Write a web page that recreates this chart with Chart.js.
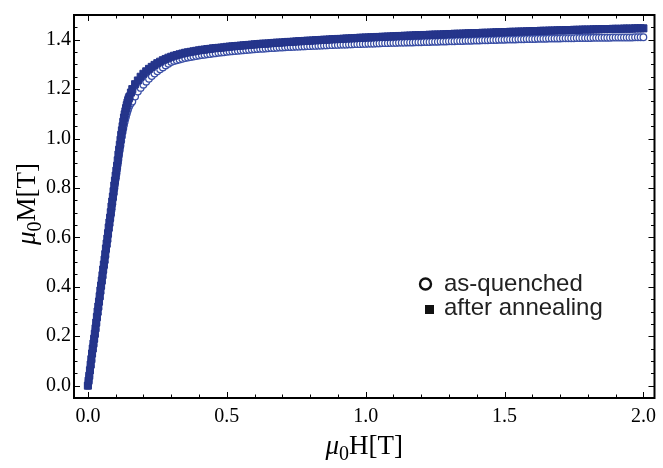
<!DOCTYPE html>
<html>
<head>
<meta charset="utf-8">
<script src="https://cdn.jsdelivr.net/npm/chart.js@4.4.1/dist/chart.umd.min.js"></script>
<style>
  html, body { margin: 0; padding: 0; background: #fff; }
  #wrap { width: 663px; height: 468px; position: relative; }
</style>
</head>
<body>
<div id="wrap"><canvas id="c" width="663" height="468"></canvas></div>
<script>
// ---- Data ----
const fieldT = [
  0,0.0025,0.005,0.0075,0.01,0.0125,0.015,0.0175,0.02,0.0225,
  0.025,0.0275,0.03,0.0325,0.035,0.0375,0.04,0.0425,0.045,0.0475,
  0.05,0.0525,0.055,0.0575,0.06,0.0625,0.065,0.0675,0.07,0.0725,
  0.075,0.0775,0.08,0.0825,0.085,0.0875,0.09,0.0925,0.095,0.0975,
  0.1,0.1025,0.105,0.1075,0.11,0.1125,0.115,0.1175,0.12,0.1225,
  0.125,0.1275,0.13,0.1325,0.135,0.1375,0.14,0.1425,0.145,0.1475,
  0.15,0.155,
  0.16,0.17,0.18,0.19,0.20,0.21,0.22,0.23,0.24,0.25,0.26,0.27,0.28,0.29,0.30,
  0.31,0.32,0.33,0.34,0.35,0.36,0.37,0.38,0.39,0.40,
  0.41,0.42,0.43,0.44,0.45,0.46,0.47,0.48,0.49,0.50,
  0.51,0.52,0.53,0.54,0.55,0.56,0.57,0.58,0.59,0.60,
  0.61,0.62,0.63,0.64,0.65,0.66,0.67,0.68,0.69,0.70,
  0.71,0.72,0.73,0.74,0.75,0.76,0.77,0.78,0.79,0.80,
  0.81,0.82,0.83,0.84,0.85,0.86,0.87,0.88,0.89,0.90,
  0.91,0.92,0.93,0.94,0.95,0.96,0.97,0.98,0.99,1.00,
  1.01,1.02,1.03,1.04,1.05,1.06,1.07,1.08,1.09,1.10,
  1.11,1.12,1.13,1.14,1.15,1.16,1.17,1.18,1.19,1.20,
  1.21,1.22,1.23,1.24,1.25,1.26,1.27,1.28,1.29,1.30,
  1.31,1.32,1.33,1.34,1.35,1.36,1.37,1.38,1.39,1.40,
  1.41,1.42,1.43,1.44,1.45,1.46,1.47,1.48,1.49,1.50,
  1.51,1.52,1.53,1.54,1.55,1.56,1.57,1.58,1.59,1.60,
  1.61,1.62,1.63,1.64,1.65,1.66,1.67,1.68,1.69,1.70,
  1.71,1.72,1.73,1.74,1.75,1.76,1.77,1.78,1.79,1.80,
  1.81,1.82,1.83,1.84,1.85,1.86,1.87,1.88,1.89,1.90,
  1.91,1.92,1.93,1.94,1.95,1.96,1.97,1.98,1.99,2.00
];

const afterAnnealing = [
  0.00,0.02,0.04,0.062,0.085,0.107,0.13,0.15,0.17,0.19,
  0.21,0.232,0.255,0.278,0.30,0.32,0.34,0.362,0.385,0.405,
  0.425,0.447,0.47,0.49,0.51,0.532,0.555,0.575,0.595,0.617,
  0.64,0.66,0.68,0.702,0.725,0.745,0.765,0.787,0.81,0.83,
  0.85,0.87,0.89,0.912,0.935,0.955,0.975,0.995,1.015,1.033,
  1.05,1.068,1.085,1.098,1.11,1.123,1.135,1.145,1.155,1.163,
  1.17,1.186,
  1.20,1.22,1.235,1.25,1.262,1.272,1.282,1.29,1.298,1.305,1.311,1.317,1.322,1.327,1.331,
  1.335,1.338,1.341,1.344,1.347,1.349,1.351,1.353,1.355,1.357,
  1.359,1.360,1.362,1.363,1.365,1.366,1.367,1.368,1.369,1.371,
  1.372,1.373,1.374,1.375,1.376,1.377,1.378,1.379,1.380,1.381,
  1.382,1.383,1.384,1.384,1.385,1.386,1.387,1.388,1.388,1.389,
  1.390,1.391,1.391,1.392,1.393,1.394,1.394,1.395,1.396,1.396,
  1.397,1.398,1.398,1.399,1.400,1.400,1.401,1.402,1.402,1.403,
  1.403,1.404,1.405,1.405,1.406,1.406,1.407,1.408,1.408,1.409,
  1.409,1.410,1.410,1.411,1.411,1.412,1.412,1.413,1.413,1.414,
  1.414,1.415,1.415,1.416,1.416,1.417,1.417,1.418,1.418,1.418,
  1.419,1.419,1.420,1.420,1.421,1.421,1.421,1.422,1.422,1.423,
  1.423,1.424,1.424,1.424,1.425,1.425,1.426,1.426,1.426,1.427,
  1.427,1.428,1.428,1.428,1.429,1.429,1.430,1.430,1.430,1.431,
  1.431,1.432,1.432,1.432,1.433,1.433,1.433,1.434,1.434,1.435,
  1.435,1.435,1.436,1.436,1.436,1.437,1.437,1.437,1.438,1.438,
  1.438,1.439,1.439,1.439,1.440,1.440,1.440,1.441,1.441,1.441,
  1.441,1.442,1.442,1.442,1.443,1.443,1.443,1.443,1.444,1.444,
  1.444,1.444,1.445,1.445,1.445,1.445,1.446,1.446,1.446,1.446
];

const asQuenched = [
  0.00,0.019,0.038,0.059,0.08,0.102,0.125,0.145,0.165,0.185,
  0.205,0.228,0.25,0.27,0.29,0.312,0.335,0.355,0.375,0.397,
  0.42,0.44,0.46,0.48,0.50,0.522,0.545,0.565,0.585,0.607,
  0.63,0.65,0.67,0.69,0.71,0.732,0.755,0.775,0.795,0.815,
  0.835,0.855,0.875,0.895,0.915,0.935,0.955,0.972,0.99,1.008,
  1.025,1.04,1.055,1.068,1.08,1.09,1.10,1.11,1.12,1.128,
  1.135,1.143,
  1.15,1.17,1.19,1.205,1.218,1.23,1.242,1.253,1.263,1.272,1.28,1.288,1.296,1.303,1.31,
  1.314,1.317,1.320,1.323,1.326,1.328,1.330,1.332,1.334,1.336,
  1.338,1.339,1.341,1.342,1.344,1.345,1.347,1.348,1.349,1.351,
  1.352,1.353,1.354,1.355,1.356,1.357,1.358,1.359,1.360,1.361,
  1.362,1.363,1.363,1.364,1.365,1.366,1.366,1.367,1.368,1.368,
  1.369,1.370,1.370,1.371,1.372,1.372,1.373,1.373,1.374,1.374,
  1.375,1.375,1.376,1.376,1.377,1.377,1.378,1.378,1.379,1.379,
  1.380,1.380,1.380,1.381,1.381,1.382,1.382,1.382,1.383,1.383,
  1.384,1.384,1.384,1.385,1.385,1.386,1.386,1.386,1.387,1.387,
  1.387,1.388,1.388,1.388,1.389,1.389,1.389,1.390,1.390,1.390,
  1.391,1.391,1.391,1.392,1.392,1.392,1.393,1.393,1.393,1.394,
  1.394,1.394,1.395,1.395,1.395,1.396,1.396,1.396,1.397,1.397,
  1.397,1.398,1.398,1.398,1.399,1.399,1.399,1.400,1.400,1.400,
  1.401,1.401,1.401,1.401,1.402,1.402,1.402,1.403,1.403,1.403,
  1.403,1.404,1.404,1.404,1.404,1.405,1.405,1.405,1.405,1.405,
  1.406,1.406,1.406,1.406,1.406,1.407,1.407,1.407,1.407,1.407,
  1.407,1.408,1.408,1.408,1.408,1.408,1.408,1.408,1.409,1.409,
  1.409,1.409,1.409,1.409,1.409,1.409,1.410,1.410,1.410,1.410
];

const seriesNames = ['as-quenched', 'after annealing'];
const xTickStep = 0.5, xMinorStep = 0.1;
const yTickStep = 0.2, yMinorStep = 0.05;
const xLimits = [-0.05, 2.04];
const yLimits = [-0.05, 1.5];

// ---- Styling ----
const SERIF = '"Liberation Serif", "DejaVu Serif", serif';
const SANS = '"Liberation Sans", Arial, sans-serif';
const annealColor = '#25358b';
const quenchColor = '#3a4fa6';

function toPoints(xs, ys) { return xs.map((x, i) => ({ x: x, y: ys[i] })); }

const framePlugin = {
  id: 'frameTicks',
  afterDatasetsDraw(chart) {
    const ctx = chart.ctx;
    const a = chart.chartArea;
    const xs = chart.scales.x, ys = chart.scales.y;
    ctx.save();
    ctx.strokeStyle = '#000';
    ctx.lineWidth = 1;
    const eps = 1e-9;
    for (let v = Math.ceil(xs.min / xMinorStep) * xMinorStep; v <= xs.max + eps; v += xMinorStep) {
      const r = Math.round(v / xMinorStep);
      const q = r * xMinorStep / xTickStep;
      const isMajor = Math.abs(q - Math.round(q)) < 1e-6;
      const len = isMajor ? 6 : 3.5;
      const px = Math.round(xs.getPixelForValue(r * xMinorStep)) + 0.5;
      ctx.beginPath();
      ctx.moveTo(px, a.bottom); ctx.lineTo(px, a.bottom - len);
      ctx.moveTo(px, a.top); ctx.lineTo(px, a.top + len);
      ctx.stroke();
    }
    for (let v = Math.ceil(ys.min / yMinorStep) * yMinorStep; v <= ys.max + eps; v += yMinorStep) {
      const r = Math.round(v / yMinorStep);
      const q = r * yMinorStep / yTickStep;
      const isMajor = Math.abs(q - Math.round(q)) < 1e-6;
      const len = isMajor ? 6 : 3.5;
      const py = Math.round(ys.getPixelForValue(r * yMinorStep)) + 0.5;
      ctx.beginPath();
      ctx.moveTo(a.left, py); ctx.lineTo(a.left + len, py);
      ctx.moveTo(a.right, py); ctx.lineTo(a.right - len, py);
      ctx.stroke();
    }
    ctx.lineWidth = 2;
    ctx.strokeRect(a.left, a.top, a.right - a.left, a.bottom - a.top);
    ctx.restore();
  },
  afterDraw(chart) {
    const ctx = chart.ctx;
    const a = chart.chartArea;
    function muLabel(letter, size) {
      const parts = [
        { t: '\u03BC', f: `italic ${size}px ${SERIF}`, dy: 0 },
        { t: '0', f: `${Math.round(size * 0.74)}px ${SERIF}`, dy: size * 0.22 },
        { t: letter + '[T]', f: `${size}px ${SERIF}`, dy: 0 }
      ];
      let w = 0;
      parts.forEach(p => { ctx.font = p.f; p.w = ctx.measureText(p.t).width; w += p.w; });
      return { parts, w };
    }
    function drawLabel(lbl) {
      let x = -lbl.w / 2;
      lbl.parts.forEach(p => {
        ctx.font = p.f;
        ctx.fillText(p.t, x, p.dy);
        x += p.w;
      });
    }
    ctx.save();
    ctx.fillStyle = '#000';
    ctx.textBaseline = 'alphabetic';
    ctx.textAlign = 'left';
    const size = 27;
    const xl = muLabel('H', size);
    ctx.save();
    ctx.translate((a.left + a.right) / 2, a.bottom + 56);
    drawLabel(xl);
    ctx.restore();
    const yl = muLabel('M', size);
    ctx.save();
    ctx.translate(a.left - 39, 204);
    ctx.rotate(-Math.PI / 2);
    drawLabel(yl);
    ctx.restore();

    // legend
    ctx.font = `24px ${SANS}`;
    ctx.lineWidth = 2.4;
    ctx.strokeStyle = '#111';
    ctx.beginPath();
    ctx.arc(425.5, 284, 5.5, 0, Math.PI * 2);
    ctx.stroke();
    ctx.fillStyle = '#111';
    ctx.fillRect(425, 305, 9, 9);
    ctx.fillStyle = '#222';
    ctx.fillText(seriesNames[0], 444, 291);
    ctx.fillText(seriesNames[1], 444, 315);
    ctx.restore();
  }
};

new Chart(document.getElementById('c'), {
  type: 'scatter',
  data: {
    datasets: [
      {
        label: seriesNames[1],
        data: toPoints(fieldT, afterAnnealing),
        pointStyle: 'rect',
        pointRadius: 5,
        borderWidth: 1,
        backgroundColor: annealColor,
        borderColor: annealColor,
        showLine: false,
        order: 0
      },
      {
        label: seriesNames[0],
        data: toPoints(fieldT, asQuenched),
        pointStyle: 'circle',
        pointRadius: 3.3,
        borderWidth: 1.3,
        backgroundColor: '#ffffff',
        borderColor: quenchColor,
        showLine: false,
        order: 1
      }
    ]
  },
  options: {
    responsive: false,
    animation: false,
    devicePixelRatio: 1,
    layout: { padding: { left: 0, right: 6, top: 13, bottom: 0 } },
    plugins: { legend: { display: false }, tooltip: { enabled: false } },
    scales: {
      x: {
        type: 'linear',
        min: xLimits[0], max: xLimits[1],
        grid: { display: false, drawTicks: false },
        border: { display: false },
        ticks: {
          stepSize: xTickStep, includeBounds: false, padding: 7,
          color: '#000', font: { family: SERIF, size: 20 },
          maxRotation: 0,
          callback: v => Number(v).toFixed(1)
        },
        afterFit: s => { s.height = 70; }
      },
      y: {
        type: 'linear',
        min: yLimits[0], max: yLimits[1],
        grid: { display: false, drawTicks: false },
        border: { display: false },
        ticks: {
          stepSize: yTickStep, includeBounds: false, padding: 3,
          color: '#000', font: { family: SERIF, size: 20 },
          callback: v => Number(v).toFixed(1)
        },
        afterFit: s => { s.width = 74; }
      }
    }
  },
  plugins: [framePlugin]
});
</script>
</body>
</html>
